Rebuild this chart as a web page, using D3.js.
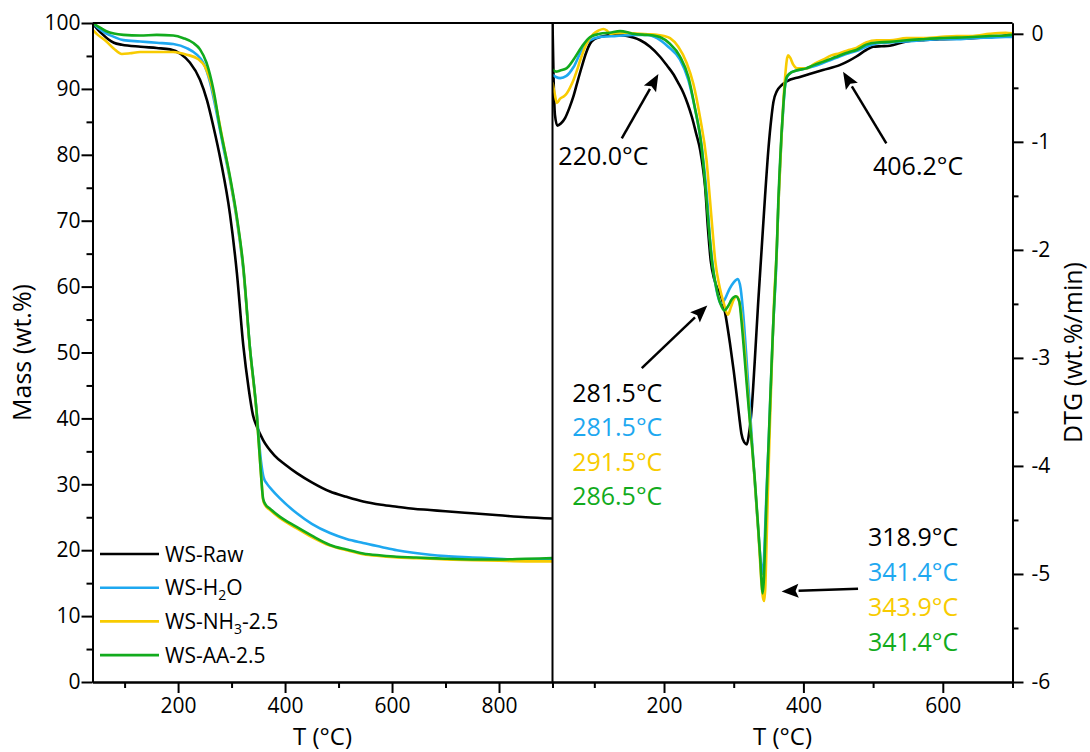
<!DOCTYPE html>
<html>
<head>
<meta charset="utf-8">
<script src="https://cdn.jsdelivr.net/npm/d3@7"></script>
<style>
  html, body { margin: 0; padding: 0; background: #fff; }
  svg { display: block; font-family: "Open Sans", "Noto Sans", sans-serif; }
</style>
</head>
<body>
<svg id="chart" width="1090" height="752"></svg>
<script>
// ---- Series ----
const seriesNames = ["WS-Raw", "WS-H2O", "WS-NH3-2.5", "WS-AA-2.5"];
const seriesColors = ["#000000", "#1ea8f0", "#f8cb00", "#12ab1d"];

// TG curves: [temperature °C, mass wt.%]
const tgRaw = [[40,100],[50,99.0],[60,98.2],[70,97.5],[80,97.0],[95,96.7],[130,96.4],[160,96.2],[185,96.0],[205,95.3],[222,94.0],[241,91.4],[254,88.3],[266,84.3],[280,79],[297,71],[310,62],[322,51],[332,44.5],[340,40.5],[347,38.8],[359,36.7],[380,34.4],[400,33.0],[422,31.7],[450,30.3],[484,28.9],[515,28.1],[546,27.4],[580,26.9],[609,26.6],[640,26.3],[671,26.1],[700,25.9],[750,25.6],[800,25.3],[850,25.0],[900,24.8]];
const tgH2O = [[40,100],[50,99.3],[66,98.4],[80,97.9],[98,97.4],[129,97.2],[160,97.0],[191,96.8],[216,96.2],[235,95.2],[247,94.0],[260,90.9],[272,86.4],[285,81],[297,76.2],[310,70],[322,62.5],[334,51],[347,40.9],[355,33.5],[360,31.0],[366,30.1],[375,29.2],[390,27.9],[422,25.6],[450,24.0],[484,22.6],[515,21.7],[546,21.1],[580,20.5],[609,20.0],[640,19.6],[671,19.3],[700,19.1],[750,18.9],[800,18.7],[830,18.6],[860,18.6],[900,18.7]];
const tgNH3 = [[40,99.0],[50,98.2],[66,97.2],[80,96.1],[95,95.3],[110,95.4],[129,95.6],[160,95.6],[191,95.6],[216,95.2],[238,94.5],[250,93.4],[263,90.4],[275,85.8],[285,81.6],[297,76.5],[310,70.3],[322,62.8],[334,50.8],[347,40.6],[355,31.5],[359,27.6],[363,26.8],[372,26.1],[390,24.9],[420,23.4],[450,22.0],[484,20.7],[515,20.0],[546,19.4],[580,19.1],[609,18.9],[640,18.8],[671,18.7],[700,18.6],[750,18.5],[800,18.4],[850,18.3],[900,18.3]];
const tgAA = [[40,100],[50,99.5],[66,98.75],[80,98.4],[98,98.2],[129,98.1],[160,98.2],[191,98.1],[210,97.7],[228,97.0],[241,96.0],[253,94.0],[266,89.9],[278,84.3],[297,76.7],[310,70.5],[322,63],[334,51],[347,40.8],[355,31.5],[359,27.8],[363,27.0],[372,26.3],[390,25.1],[420,23.6],[450,22.2],[484,20.8],[515,20.1],[546,19.5],[580,19.2],[609,19.0],[640,18.9],[671,18.8],[700,18.7],[750,18.6],[800,18.6],[850,18.7],[900,18.8]];

// DTG curves: [temperature °C, rate wt.%/min]
const dtgRaw = [[40,0.1],[41.5,-0.4],[43.5,-0.75],[47,-0.85],[52,-0.83],[58,-0.78],[64,-0.69],[70,-0.58],[76,-0.44],[82,-0.305],[88,-0.18],[94,-0.09],[100,-0.05],[108,-0.03],[118,-0.015],[127,-0.01],[137,-0.012],[147,-0.02],[156,-0.035],[166,-0.06],[180,-0.12],[194,-0.21],[205,-0.30],[213,-0.37],[220,-0.45],[228,-0.55],[234,-0.65],[240,-0.77],[246,-0.92],[252,-1.08],[256,-1.25],[259,-1.42],[263,-1.8],[267,-2.1],[272,-2.27],[276,-2.35],[281.5,-2.42],[287,-2.56],[294.5,-2.86],[300,-3.12],[304,-3.33],[308,-3.55],[311,-3.7],[315,-3.78],[318.9,-3.8],[322,-3.7],[325.7,-3.48],[330,-3.05],[335,-2.5],[340,-2.0],[345,-1.5],[350,-1.05],[354,-0.78],[357,-0.63],[362,-0.53],[368,-0.48],[376,-0.44],[395,-0.40],[410,-0.37],[428,-0.335],[452,-0.29],[465,-0.25],[476,-0.21],[490,-0.15],[500,-0.12],[512,-0.115],[524,-0.11],[548,-0.07],[570,-0.06],[595,-0.05],[620,-0.045],[643,-0.04],[667,-0.03],[685,-0.02],[700,-0.01]];
const dtgH2O = [[40,-0.38],[45,-0.40],[51,-0.41],[60,-0.39],[70,-0.31],[82,-0.15],[94,-0.06],[108,-0.03],[132,-0.02],[156,-0.01],[176,-0.01],[190,-0.04],[206,-0.12],[223,-0.24],[235,-0.43],[244,-0.68],[254,-1.04],[262,-1.54],[266,-1.9],[269.5,-2.12],[275,-2.36],[281.5,-2.5],[287,-2.46],[294,-2.36],[300,-2.3],[306,-2.27],[310,-2.36],[314,-2.62],[318.5,-3.02],[323,-3.45],[328,-3.94],[333,-4.4],[337,-4.75],[339.5,-4.93],[341.4,-5.0],[343.5,-4.85],[345,-4.6],[347,-4.25],[350,-3.8],[352,-3.48],[356.6,-2.71],[361.4,-2.09],[364,-1.6],[366,-1.3],[368.6,-0.95],[371,-0.7],[373.4,-0.5],[376,-0.41],[380,-0.37],[390,-0.34],[404,-0.32],[415,-0.30],[428,-0.27],[440,-0.24],[452,-0.21],[465,-0.18],[476,-0.16],[490,-0.12],[505,-0.09],[524,-0.08],[548,-0.07],[570,-0.06],[595,-0.05],[620,-0.05],[643,-0.04],[667,-0.035],[690,-0.03],[700,-0.03]];
const dtgNH3 = [[40,-0.45],[43,-0.55],[46.3,-0.64],[51,-0.60],[56,-0.58],[60.6,-0.55],[65,-0.5],[70,-0.43],[75,-0.34],[80,-0.24],[89,-0.09],[98.7,0.0],[106,0.03],[113,0.045],[118,0.03],[122.7,0.0],[130,0.005],[141.7,0.01],[155,0.005],[165.6,0.0],[180,-0.005],[189.6,-0.01],[200,-0.02],[208.6,-0.04],[220.5,-0.12],[232.5,-0.27],[242,-0.46],[251.6,-0.77],[261,-1.17],[266,-1.54],[270,-1.85],[273.3,-2.09],[280,-2.35],[286,-2.5],[291.5,-2.6],[296,-2.53],[300,-2.46],[304,-2.43],[308,-2.48],[312,-2.65],[316,-2.95],[320,-3.3],[325,-3.72],[330,-4.12],[335,-4.58],[338,-4.9],[340,-5.1],[342,-5.22],[343.9,-5.25],[345.5,-5.1],[347,-4.75],[349,-4.25],[352,-3.6],[355,-3.0],[358,-2.45],[361.4,-2.05],[364,-1.6],[366.5,-1.25],[369,-0.9],[371.5,-0.6],[374,-0.38],[376,-0.25],[378,-0.2],[381,-0.22],[385,-0.28],[392,-0.32],[404.5,-0.32],[415,-0.28],[428,-0.24],[440,-0.20],[452,-0.18],[465,-0.15],[476,-0.13],[490,-0.08],[505,-0.06],[524,-0.06],[548,-0.04],[570,-0.04],[595,-0.03],[620,-0.02],[643,-0.02],[667,0.0],[690,0.01],[700,0.005]];
const dtgAA = [[40,-0.33],[45,-0.35],[51,-0.34],[60,-0.32],[70,-0.24],[82,-0.12],[94,-0.03],[108,0.0],[122,0.01],[137,0.025],[150,0.01],[156,0.0],[175,-0.01],[185,-0.015],[194,-0.03],[208,-0.09],[223,-0.21],[235,-0.40],[244,-0.675],[254,-1.05],[261,-1.54],[265,-1.85],[268.5,-2.09],[275,-2.35],[281,-2.5],[286.5,-2.56],[292,-2.52],[297,-2.46],[303,-2.43],[308,-2.48],[311,-2.65],[315,-2.95],[320,-3.35],[325,-3.72],[330,-4.1],[335,-4.56],[338,-4.85],[340,-5.08],[341.4,-5.18],[343.5,-5.02],[345,-4.72],[347,-4.3],[350,-3.8],[352,-3.45],[355,-2.95],[357,-2.65],[360,-2.25],[362,-1.95],[364,-1.55],[366,-1.25],[368.6,-0.92],[371,-0.68],[373.4,-0.49],[376,-0.40],[380,-0.37],[390,-0.34],[404,-0.32],[415,-0.29],[428,-0.26],[440,-0.23],[452,-0.20],[465,-0.17],[476,-0.15],[490,-0.10],[505,-0.08],[524,-0.075],[548,-0.06],[570,-0.05],[595,-0.04],[620,-0.035],[643,-0.03],[667,-0.02],[690,-0.015],[700,-0.01]];

const tgSeries = [tgRaw, tgH2O, tgNH3, tgAA];
const dtgSeries = [dtgRaw, dtgH2O, dtgNH3, dtgAA];

// Peak temperature labels
const shoulderLabels = ["281.5°C", "281.5°C", "291.5°C", "286.5°C"];
const mainPeakLabels = ["318.9°C", "341.4°C", "343.9°C", "341.4°C"];
const onsetLabel = "220.0°C";
const endsetLabel = "406.2°C";

// Axis ticks
const massTicks = d3.range(0, 101, 10);
const massMinor = d3.range(5, 100, 10);
const dtgTicks = [0, -1, -2, -3, -4, -5, -6];
const dtgMinor = [-0.5, -1.5, -2.5, -3.5, -4.5, -5.5];
const tgTempTicks = [200, 400, 600, 800];
const tgTempMinor = [100, 300, 500, 700, 900];
const dtgTempTicks = [200, 400, 600];
const dtgTempMinor = [100, 300, 500, 700];

// ---- Layout ----
const plotTop = 23, plotBottom = 682;
const leftX0 = 92.5, midX = 552.5, rightX1 = 1012.5;

const xTG = d3.scaleLinear().domain([40, 900]).range([leftX0, midX]);
const xDTG = d3.scaleLinear().domain([40, 700]).range([midX, rightX1]);
const yTG = d3.scaleLinear().domain([0, 100]).range([plotBottom, plotTop]);
const yDTG = d3.scaleLinear().domain([-6, 0.1]).range([plotBottom, plotTop]);

const svg = d3.select("#chart");
const defs = svg.append("defs");
defs.append("clipPath").attr("id", "clipTG").append("rect")
  .attr("x", leftX0).attr("y", plotTop).attr("width", midX - leftX0).attr("height", plotBottom - plotTop);
defs.append("clipPath").attr("id", "clipDTG").append("rect")
  .attr("x", midX).attr("y", plotTop).attr("width", rightX1 - midX).attr("height", plotBottom - plotTop);

// ---- Curves ----
const lineTG = d3.line().x(d => xTG(d[0])).y(d => yTG(d[1])).curve(d3.curveMonotoneX);
const lineDTG = d3.line().x(d => xDTG(d[0])).y(d => yDTG(d[1])).curve(d3.curveMonotoneX);

svg.append("g").attr("clip-path", "url(#clipTG)")
  .selectAll("path").data(tgSeries).join("path")
  .attr("d", lineTG).attr("fill", "none")
  .attr("stroke", (d, i) => seriesColors[i])
  .attr("stroke-width", 2.6).attr("stroke-linejoin", "round");

svg.append("g").attr("clip-path", "url(#clipDTG)")
  .selectAll("path").data(dtgSeries).join("path")
  .attr("d", lineDTG).attr("fill", "none")
  .attr("stroke", (d, i) => seriesColors[i])
  .attr("stroke-width", 2.6).attr("stroke-linejoin", "round");

// ---- Axes ----
const tickFont = 21;
function styleAxis(g) {
  g.selectAll(".domain").attr("stroke", "#000").attr("stroke-width", 2);
  g.selectAll(".tick line").attr("stroke", "#000").attr("stroke-width", 2);
  g.selectAll(".tick text").attr("fill", "#000").attr("font-size", tickFont)
    .attr("font-family", '"Open Sans", "Noto Sans", sans-serif');
}

svg.append("g").attr("transform", `translate(0,${plotBottom})`)
  .call(d3.axisBottom(xTG).tickValues(tgTempMinor).tickSize(6).tickFormat("").tickSizeOuter(0)).call(styleAxis);
svg.append("g").attr("transform", `translate(0,${plotBottom})`)
  .call(d3.axisBottom(xTG).tickValues(tgTempTicks).tickSize(11).tickPadding(5).tickSizeOuter(0)).call(styleAxis);

svg.append("g").attr("transform", `translate(0,${plotBottom})`)
  .call(d3.axisBottom(xDTG).tickValues(dtgTempMinor).tickSize(6).tickFormat("").tickSizeOuter(0)).call(styleAxis);
svg.append("g").attr("transform", `translate(0,${plotBottom})`)
  .call(d3.axisBottom(xDTG).tickValues(dtgTempTicks).tickSize(11).tickPadding(5).tickSizeOuter(0)).call(styleAxis);

svg.append("g").attr("transform", `translate(${leftX0},0)`)
  .call(d3.axisLeft(yTG).tickValues(massMinor).tickSize(6).tickFormat("").tickSizeOuter(0)).call(styleAxis);
svg.append("g").attr("transform", `translate(${leftX0},0)`)
  .call(d3.axisLeft(yTG).tickValues(massTicks).tickSize(11).tickPadding(1).tickSizeOuter(0)).call(styleAxis);

svg.append("g").attr("transform", `translate(${rightX1},0)`)
  .call(d3.axisRight(yDTG).tickValues(dtgMinor).tickSize(6).tickFormat("").tickSizeOuter(0)).call(styleAxis);
svg.append("g").attr("transform", `translate(${rightX1},0)`)
  .call(d3.axisRight(yDTG).tickValues(dtgTicks).tickSize(11).tickPadding(8).tickSizeOuter(0)
    .tickFormat(d => String(d))).call(styleAxis);

// Frame: top edge and panel divider
svg.append("line").attr("x1", leftX0).attr("x2", rightX1).attr("y1", plotTop).attr("y2", plotTop)
  .attr("stroke", "#000").attr("stroke-width", 2);
svg.append("line").attr("x1", midX).attr("x2", midX).attr("y1", plotTop).attr("y2", plotBottom)
  .attr("stroke", "#000").attr("stroke-width", 2);

// ---- Axis titles ----
const titleSize = 24;
svg.append("text").attr("x", (leftX0 + midX) / 2).attr("y", 745)
  .attr("text-anchor", "middle").attr("font-size", titleSize).text("T (°C)");
svg.append("text").attr("x", (midX + rightX1) / 2).attr("y", 745)
  .attr("text-anchor", "middle").attr("font-size", titleSize).text("T (°C)");
svg.append("text").attr("transform", `translate(31,${(plotTop + plotBottom) / 2}) rotate(-90)`)
  .attr("text-anchor", "middle").attr("font-size", 25).text("Mass (wt.%)");
svg.append("text").attr("transform", `translate(1082,${(plotTop + plotBottom) / 2}) rotate(-90)`)
  .attr("text-anchor", "middle").attr("font-size", 25).text("DTG (wt.%/min)");

// ---- Legend ----
const legendParts = [
  [["WS-Raw", false]],
  [["WS-H", false], ["2", true], ["O", false]],
  [["WS-NH", false], ["3", true], ["-2.5", false]],
  [["WS-AA-2.5", false]]
];
const legend = svg.append("g").attr("transform", "translate(100,554)");
legendParts.forEach((parts, i) => {
  const row = legend.append("g").attr("transform", `translate(0,${i * 33.7})`);
  row.append("line").attr("x1", 0).attr("x2", 59).attr("y1", 0).attr("y2", 0)
    .attr("stroke", seriesColors[i]).attr("stroke-width", 2.6);
  const t = row.append("text").attr("x", 65).attr("y", 7.5).attr("font-size", 21);
  parts.forEach(([s, sub], k) => {
    const ts = t.append("tspan").text(s);
    if (sub) ts.attr("font-size", 14).attr("dy", 5);
    else if (k > 0) ts.attr("dy", -5);
  });
});

// ---- Annotations on the DTG panel ----
const annoSize = 25;
function arrow(from, to) {
  const x1 = xDTG(from[0]), y1 = yDTG(from[1]);
  const x2 = xDTG(to[0]), y2 = yDTG(to[1]);
  const ang = Math.atan2(y2 - y1, x2 - x1);
  const headLen = 17, headW = 7;
  const bx = x2 - headLen * Math.cos(ang), by = y2 - headLen * Math.sin(ang);
  svg.append("line").attr("x1", x1).attr("y1", y1).attr("x2", bx).attr("y2", by)
    .attr("stroke", "#000").attr("stroke-width", 2.5);
  const px = -Math.sin(ang) * headW, py = Math.cos(ang) * headW;
  svg.append("path")
    .attr("d", `M${x2},${y2}L${bx + px},${by + py}L${bx + 3 * Math.cos(ang)},${by + 3 * Math.sin(ang)}L${bx - px},${by - py}Z`)
    .attr("fill", "#000");
}
arrow([139.4, -0.968], [191.9, -0.373]);
arrow([519, -1.014], [456.9, -0.352]);
arrow([168.1, -3.095], [262.1, -2.516]);
arrow([478.4, -5.137], [368.7, -5.162]);

svg.append("text").attr("x", xDTG(48.4)).attr("y", yDTG(-1.215))
  .attr("font-size", annoSize).text(onsetLabel);
svg.append("text").attr("x", xDTG(499.9)).attr("y", yDTG(-1.307))
  .attr("font-size", annoSize).text(endsetLabel);

shoulderLabels.forEach((s, i) => {
  svg.append("text").attr("x", xDTG(68.2)).attr("y", yDTG(-3.404) + i * 34.5)
    .attr("font-size", annoSize).attr("fill", seriesColors[i]).text(s);
});
mainPeakLabels.forEach((s, i) => {
  svg.append("text").attr("x", xDTG(492.7)).attr("y", yDTG(-4.739) + i * 35.2)
    .attr("font-size", annoSize).attr("fill", seriesColors[i]).text(s);
});
</script>
</body>
</html>
